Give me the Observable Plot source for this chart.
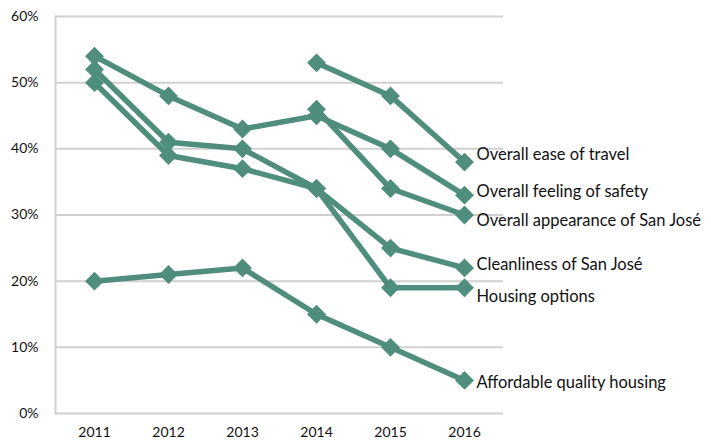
<!DOCTYPE html>
<html>
<head>
<meta charset="utf-8">
<script src="https://cdn.jsdelivr.net/npm/d3@7"></script>
<script src="https://cdn.jsdelivr.net/npm/@observablehq/plot@0.6"></script>
<style>
  html, body { margin: 0; padding: 0; background: #fff; }
  #chart svg { display: block; }
</style>
</head>
<body>
<div id="chart"></div>
<script>
const years = ["2011", "2012", "2013", "2014", "2015", "2016"];
const seriesNames = [
  "Overall ease of travel",
  "Overall feeling of safety",
  "Overall appearance of San José",
  "Cleanliness of San José",
  "Housing options",
  "Affordable quality housing"
];
const easeOfTravel   = [null, null, null, 0.53, 0.48, 0.38];
const feelingSafety  = [0.54, 0.48, 0.43, 0.45, 0.40, 0.33];
const appearance     = [null, null, null, 0.46, 0.34, 0.30];
const cleanliness    = [0.52, 0.41, 0.40, 0.34, 0.25, 0.22];
const housingOptions = [0.50, 0.39, 0.37, 0.34, 0.19, 0.19];
const affordable     = [0.20, 0.21, 0.22, 0.15, 0.10, 0.05];
const yTicks = [0, 0.1, 0.2, 0.3, 0.4, 0.5, 0.6];

const allValues = [easeOfTravel, feelingSafety, appearance, cleanliness, housingOptions, affordable];
const labelDy = [-7, -3, 6, -3, 9, 2];

const rows = [];
allValues.forEach((vals, i) => {
  vals.forEach((v, j) => {
    if (v != null) rows.push({series: seriesNames[i], year: years[j], value: v});
  });
});
const ends = seriesNames.map((s, i) => {
  const vals = allValues[i];
  return {series: s, year: years[years.length - 1], value: vals[vals.length - 1], dy: labelDy[i]};
});

const color = "#4f8e7c";
const font = "Lato, 'Open Sans', sans-serif";

const chart = Plot.plot({
  width: 711,
  height: 443,
  marginLeft: 55,
  marginRight: 208,
  marginTop: 16,
  marginBottom: 30,
  style: {fontFamily: font, fontSize: "14px", color: "#111", background: "#fff"},
  x: {type: "point", domain: years, padding: 0.5},
  y: {domain: [0, 0.6], ticks: yTicks},
  marks: [
    Plot.ruleY(yTicks, {stroke: "#d0d0d0", strokeWidth: 2}),
    Plot.frame({anchor: "left", stroke: "#d0d0d0", strokeWidth: 2}),
    Plot.axisY(yTicks, {tickSize: 0, tickPadding: 17, tickFormat: d3.format(".0%"), fontSize: 14, label: null, fill: "#111"}),
    Plot.axisX({tickSize: 0, tickPadding: 14, fontSize: 14, label: null, fill: "#111"}),
    Plot.line(rows, {x: "year", y: "value", z: "series", stroke: color, strokeWidth: 5.5, strokeLinejoin: "miter"}),
    Plot.dot(rows, {x: "year", y: "value", symbol: "diamond2", r: 8.5, fill: color, stroke: "none"}),
    ...ends.map(e => Plot.text([e], {x: "year", y: "value", text: "series", textAnchor: "start", dx: 12, dy: e.dy, fontSize: 16.5, fill: "#111"}))
  ]
});
document.getElementById("chart").appendChild(chart);
</script>
</body>
</html>
